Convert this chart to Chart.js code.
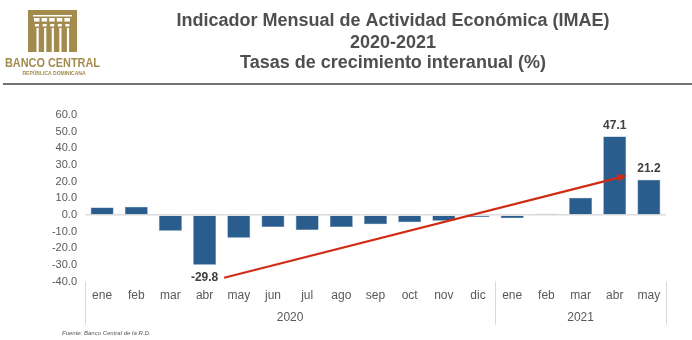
<!DOCTYPE html>
<html>
<head>
<meta charset="utf-8">
<script src="https://cdn.jsdelivr.net/npm/chart.js@4/dist/chart.umd.min.js"></script>
<style>
    html, body { margin: 0; padding: 0; background: #ffffff; }
    #wrap { position: relative; width: 692px; height: 340px; }
</style>
</head>
<body>
<div id="wrap"><canvas id="imaeGraph" width="692" height="340"></canvas></div>
<script>
// IMAE, tasas interanuales (%)
const months = ['ene', 'feb', 'mar', 'abr', 'may', 'jun', 'jul', 'ago', 'sep', 'oct', 'nov', 'dic',
                'ene', 'feb', 'mar', 'abr', 'may'];
const years = ['2020', '2021'];
const monthsPerYear = [12, 5];
const imaeValues = [4.5, 5.0, -9.4, -29.8, -13.6, -7.2, -9.0, -7.2, -5.6, -4.4, -3.4, -1.2,
                    -2.0, 0.8, 10.4, 47.1, 21.2];
const labeledBars = [3, 15, 16];
const yTicks = [-40, -30, -20, -10, 0, 10, 20, 30, 40, 50, 60];

const BAR_COLOR = '#2a5c8d';
const GOLD = '#a38b4d';
const TEXT_GRAY = '#4f4f4f';

// texto comprimido a un ancho fijo (letra condensada del logotipo)
function fillFitted(ctx, text, cx, by, width) {
    const w = ctx.measureText(text).width;
    const k = Math.min(1, width / w);
    ctx.save();
    ctx.translate(cx, by);
    ctx.scale(k, 1);
    ctx.fillText(text, 0, 0);
    ctx.restore();
}

function drawLogo(ctx) {
    ctx.save();
    ctx.fillStyle = GOLD;
    ctx.fillRect(28, 10, 49, 42);
    ctx.fillStyle = '#ffffff';
    // cornisa
    ctx.fillRect(33, 15, 39, 1.5);
    for (let i = 0; i < 5; i++) {
        ctx.fillRect(34 + i * 7.6, 18, 5.5, 3.5);
        ctx.fillRect(35 + i * 7.6, 24, 4, 2.5);
    }
    // columnas
    for (let i = 0; i < 5; i++) {
        ctx.fillRect(36.5 + i * 7.6, 28, 2.2, 24);
    }
    ctx.fillStyle = GOLD;
    ctx.textAlign = 'center';
    ctx.textBaseline = 'alphabetic';
    ctx.font = 'bold 12.5px "Liberation Sans", sans-serif';
    fillFitted(ctx, 'BANCO CENTRAL', 52.5, 67, 95);
    ctx.font = 'bold 5px "Liberation Sans", sans-serif';
    ctx.fillText('REPÚBLICA DOMINICANA', 54, 75);
    ctx.restore();
}

const decorPlugin = {
    id: 'decor',
    beforeDraw: function (chart) {
        const ctx = chart.ctx;
        drawLogo(ctx);
        ctx.save();
        ctx.fillStyle = TEXT_GRAY;
        ctx.textAlign = 'center';
        ctx.textBaseline = 'alphabetic';
        ctx.font = 'bold 18px "Liberation Sans", Arial, sans-serif';
        ctx.fillText('Indicador Mensual de Actividad Económica (IMAE)', 393, 26);
        ctx.fillText('2020-2021', 393, 48);
        ctx.fillText('Tasas de crecimiento interanual (%)', 393, 68);
        // filete bajo el encabezado
        ctx.strokeStyle = '#727272';
        ctx.lineWidth = 2;
        ctx.beginPath();
        ctx.moveTo(3, 84);
        ctx.lineTo(692, 84);
        ctx.stroke();
        // fuente
        ctx.fillStyle = '#555555';
        ctx.textAlign = 'left';
        ctx.font = 'italic 6px "Liberation Sans", Arial, sans-serif';
        ctx.fillText('Fuente: Banco Central de la R.D.', 62, 335);
        ctx.restore();
    },
    afterDraw: function (chart) {
        const ctx = chart.ctx;
        const x = chart.scales.x;
        const y = chart.scales.y;
        const area = chart.chartArea;
        const half = (x.getPixelForValue(1) - x.getPixelForValue(0)) / 2;
        ctx.save();

        // separadores y etiquetas de año
        ctx.strokeStyle = '#d9d9d9';
        ctx.lineWidth = 1;
        ctx.fillStyle = '#595959';
        ctx.font = '12px "Liberation Sans", Arial, sans-serif';
        ctx.textAlign = 'center';
        ctx.textBaseline = 'middle';
        let start = 0;
        const edges = [x.getPixelForValue(0) - half];
        years.forEach(function (yr, k) {
            const end = start + monthsPerYear[k] - 1;
            const left = x.getPixelForValue(start) - half;
            const right = x.getPixelForValue(end) + half;
            edges.push(right);
            ctx.fillText(yr, (left + right) / 2, area.bottom + 36);
            start = end + 1;
        });
        edges.forEach(function (px) {
            ctx.beginPath();
            ctx.moveTo(Math.round(px) + 0.5, area.bottom);
            ctx.lineTo(Math.round(px) + 0.5, area.bottom + 43);
            ctx.stroke();
        });

        // etiquetas de valor
        const meta = chart.getDatasetMeta(0);
        ctx.fillStyle = '#404040';
        ctx.font = 'bold 12px "Liberation Sans", Arial, sans-serif';
        labeledBars.forEach(function (i) {
            const bar = meta.data[i];
            const v = imaeValues[i];
            const ty = v < 0 ? bar.y + 13 : bar.y - 11;
            ctx.fillText(v.toFixed(1), bar.x, ty);
        });

        // flecha de tendencia
        const x0 = x.getPixelForValue(3.57), y0 = y.getPixelForValue(-37.6);
        const x1 = x.getPixelForValue(15.35), y1 = y.getPixelForValue(23.6);
        const ang = Math.atan2(y1 - y0, x1 - x0);
        const headLen = 9, headW = 4;
        ctx.strokeStyle = '#d12b14';
        ctx.fillStyle = '#d12b14';
        ctx.lineWidth = 2.2;
        ctx.beginPath();
        ctx.moveTo(x0, y0);
        ctx.lineTo(x1 - Math.cos(ang) * headLen, y1 - Math.sin(ang) * headLen);
        ctx.stroke();
        ctx.beginPath();
        ctx.moveTo(x1, y1);
        ctx.lineTo(x1 - Math.cos(ang) * headLen - Math.sin(ang) * headW,
                   y1 - Math.sin(ang) * headLen + Math.cos(ang) * headW);
        ctx.lineTo(x1 - Math.cos(ang) * headLen + Math.sin(ang) * headW,
                   y1 - Math.sin(ang) * headLen - Math.cos(ang) * headW);
        ctx.closePath();
        ctx.fill();
        ctx.restore();
    }
};

const config = {
    type: 'bar',
    data: {
        labels: months,
        datasets: [{
            data: imaeValues,
            backgroundColor: BAR_COLOR,
            borderColor: '#4a78a6',
            borderWidth: 0.6,
            barPercentage: 0.67,
            categoryPercentage: 1.0,
        }]
    },
    plugins: [decorPlugin],
    options: {
        responsive: false,
        animation: false,
        layout: {
            padding: { top: 115, right: 26, left: 0, bottom: 0 }
        },
        plugins: {
            legend: { display: false },
            tooltip: { enabled: false },
        },
        scales: {
            y: {
                min: yTicks[0],
                max: yTicks[yTicks.length - 1],
                afterBuildTicks: function (scale) {
                    scale.ticks = yTicks.map(function (v) { return { value: v }; });
                },
                afterFit: function (scale) {
                    scale.width = 85;
                },
                border: { display: false },
                grid: {
                    drawTicks: false,
                    lineWidth: 1.5,
                    color: function (c) {
                        return c.tick && c.tick.value === 0 ? '#dcdcdc' : 'transparent';
                    },
                },
                ticks: {
                    padding: 8,
                    color: '#595959',
                    font: { family: '"Liberation Sans", Arial, sans-serif', size: 11 },
                    callback: function (value) {
                        return value.toFixed(1);
                    }
                },
            },
            x: {
                afterFit: function (scale) {
                    scale.height = 58.3;
                },
                border: { display: false },
                grid: { display: false, drawTicks: false },
                ticks: {
                    padding: 7,
                    autoSkip: false,
                    maxRotation: 0,
                    color: '#595959',
                    font: { family: '"Liberation Sans", Arial, sans-serif', size: 12 },
                },
            },
        }
    }
};

const myImaeChart = new Chart(document.getElementById('imaeGraph'), config);
</script>
</body>
</html>
